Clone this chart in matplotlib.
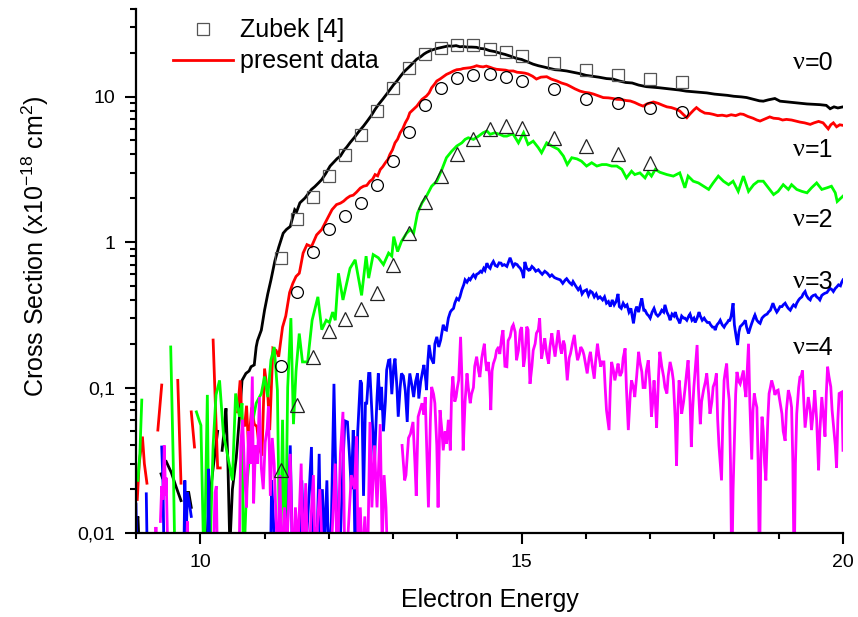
import numpy as np
import matplotlib
matplotlib.use("Agg")
import matplotlib.pyplot as plt
from matplotlib.ticker import FixedLocator, FuncFormatter, LogLocator, MultipleLocator, NullFormatter
from matplotlib.lines import Line2D

NaN = np.nan

# ==========================
# 1. Zubek [4] data (markers)
# ==========================
zubek_e = [11.25, 11.5, 11.75, 12.0, 12.25, 12.5, 12.75, 13.0, 13.25, 13.5, 13.75,
           14.0, 14.25, 14.5, 14.75, 15.0, 15.5, 16.0, 16.5, 17.0, 17.5]
zubek_v0 = [0.78, 1.43, 2.03, 2.83, 3.94, 5.43, 7.96, 11.5, 15.7, 19.6, 21.5,
            22.6, 22.7, 21.2, 20.1, 18.9, 17.0, 15.2, 14.1, 13.2, 12.5]
zubek_v1 = [0.140, 0.456, 0.853, 1.23, 1.52, 1.87, 2.48, 3.60, 5.70, 8.71, 11.5,
            13.4, 14.1, 14.3, 13.7, 12.8, 11.2, 9.58, 8.99, 8.40, 7.84]
zubek_e2 = [11.25, 11.5, 11.75, 12.0, 12.25, 12.5, 12.75, 13.0, 13.25, 13.5, 13.75,
            14.0, 14.25, 14.5, 14.75, 15.0, 15.5, 16.0, 16.5, 17.0]
zubek_v2 = [0.027, 0.0755, 0.161, 0.245, 0.294, 0.345, 0.445, 0.690, 1.15, 1.90, 2.83,
            4.00, 5.08, 6.01, 6.27, 6.11, 5.21, 4.56, 4.00, 3.51]

# ==================================
# 2. present data (energy, section)
# ==================================
v0_pts = [
    (9.00, 0.011), (9.03, 0.013), (9.05, 0.008), (9.08, NaN),
    (9.39, 0.0255), (9.41, 0.024), (9.43, NaN),
    (9.47, 0.031), (9.55, 0.026), (9.62, 0.021), (9.70, 0.0167), (9.73, NaN),
    (9.78, 0.019), (9.82, 0.019), (9.86, 0.015), (9.88, NaN),
    (10.10, 0.009), (10.15, 0.018), (10.20, 0.028), (10.27, 0.050), (10.30, NaN),
    (10.34, 0.037), (10.37, 0.050), (10.40, 0.072), (10.43, 0.030), (10.46, 0.008),
    (10.50, 0.020), (10.56, 0.033), (10.61, 0.063), (10.65, 0.112), (10.71, 0.125),
    (10.76, 0.130), (10.79, 0.139), (10.84, 0.143), (10.87, 0.19), (10.89, 0.21),
    (10.95, 0.248), (11.00, 0.34), (11.05, 0.44), (11.10, 0.55), (11.16, 0.74),
    (11.22, 0.92), (11.29, 1.15), (11.34, 1.22), (11.40, 1.28), (11.47, 1.67),
    (11.50, 1.62), (11.55, 1.86), (11.60, 1.95), (11.63, 2.01), (11.68, 2.15),
    (11.73, 2.30), (11.78, 2.40), (11.84, 2.55), (11.89, 2.69), (11.95, 2.95),
    (12.02, 3.33), (12.08, 3.55), (12.13, 3.75), (12.18, 3.90), (12.24, 4.30),
    (12.28, 4.50), (12.33, 4.82), (12.40, 5.25), (12.46, 5.70), (12.54, 6.27),
    (12.60, 6.8), (12.66, 7.4), (12.72, 8.17), (12.78, 8.9), (12.84, 9.6),
    (12.90, 10.4), (12.96, 11.3), (13.01, 12.1), (13.06, 12.8), (13.12, 13.9),
    (13.17, 14.8), (13.21, 15.4), (13.27, 16.3), (13.32, 17.2), (13.37, 18.1),
    (13.43, 18.8), (13.48, 19.6), (13.52, 20.1), (13.57, 20.6), (13.62, 21.0),
    (13.68, 21.4), (13.74, 21.7), (13.80, 22.0), (13.86, 22.3), (13.92, 22.2),
    (13.98, 22.4), (14.04, 22.0), (14.09, 22.1), (14.15, 21.9), (14.22, 21.9),
    (14.30, 21.8), (14.36, 21.4), (14.42, 21.3), (14.50, 20.7), (14.58, 20.4),
    (14.66, 19.9), (14.74, 19.5), (14.82, 19.0), (14.92, 18.3), (15.00, 18.0),
    (15.08, 17.4), (15.18, 16.7), (15.26, 16.3), (15.34, 16.0), (15.44, 15.6),
    (15.52, 15.3), (15.60, 15.2), (15.70, 15.0), (15.80, 14.7), (15.90, 14.4),
    (16.00, 14.0), (16.10, 13.8), (16.20, 13.6), (16.32, 13.3), (16.42, 13.2),
    (16.52, 12.8), (16.62, 12.5), (16.72, 12.4), (16.82, 12.0), (16.94, 11.7),
    (17.04, 11.6), (17.14, 11.5), (17.25, 11.35), (17.35, 11.2), (17.45, 11.1),
    (17.56, 10.9), (17.66, 10.8), (17.76, 10.7), (17.88, 10.6), (18.00, 10.4),
    (18.10, 10.3), (18.20, 10.2), (18.30, 10.05), (18.42, 9.95), (18.50, 9.85),
    (18.60, 9.6), (18.70, 9.35), (18.76, 9.3), (18.84, 9.5), (18.94, 9.7),
    (19.02, 9.3), (19.12, 9.2), (19.22, 9.1), (19.33, 9.0), (19.44, 8.9),
    (19.54, 8.85), (19.64, 8.8), (19.74, 8.7), (19.80, 8.25), (19.86, 8.5),
    (19.92, 8.35), (20.00, 8.5),
]

v1_pts = [
    (9.02, 0.017), (9.05, 0.030), (9.10, 0.046), (9.13, 0.030), (9.17, 0.022), (9.20, NaN),
    (9.34, 0.051), (9.40, 0.104), (9.43, NaN),
    (9.65, 0.112), (9.70, 0.022), (9.74, NaN),
    (9.86, 0.068), (9.91, 0.039), (9.94, NaN),
    (10.20, 0.212), (10.27, 0.028), (10.31, 0.028), (10.34, NaN),
    (10.58, 0.068), (10.62, 0.112), (10.65, 0.060), (10.69, 0.054), (10.72, 0.075),
    (10.75, 0.039), (10.80, 0.073), (10.84, 0.056), (10.88, 0.054), (10.92, 0.038),
    (10.96, 0.034), (11.00, 0.135), (11.05, 0.090), (11.08, 0.051), (11.13, 0.186),
    (11.18, 0.180), (11.22, 0.163), (11.28, 0.26), (11.33, 0.31), (11.39, 0.45),
    (11.44, 0.52), (11.49, 0.58), (11.54, 0.61), (11.55, 0.64), (11.60, 0.84),
    (11.66, 0.96), (11.73, 0.93), (11.81, 1.12), (11.89, 1.22), (11.97, 1.43),
    (12.05, 1.67), (12.12, 1.81), (12.18, 1.85), (12.23, 1.91), (12.28, 2.0),
    (12.33, 2.07), (12.38, 2.1), (12.43, 2.2), (12.49, 2.35), (12.54, 2.42),
    (12.59, 2.45), (12.64, 2.62), (12.68, 2.7), (12.72, 2.91), (12.76, 2.85),
    (12.80, 3.15), (12.84, 3.3), (12.88, 3.51), (12.92, 3.7), (12.95, 4.0),
    (12.99, 4.3), (13.03, 4.81), (13.07, 5.1), (13.11, 5.64), (13.15, 6.0),
    (13.19, 6.61), (13.23, 7.1), (13.26, 7.74), (13.32, 8.2), (13.37, 8.6),
    (13.41, 9.1), (13.45, 9.57), (13.52, 10.1), (13.56, 10.6), (13.60, 11.5),
    (13.64, 12.1), (13.68, 12.8), (13.73, 13.2), (13.78, 13.7), (13.83, 14.2),
    (13.89, 14.6), (13.94, 15.0), (13.99, 15.3), (14.05, 15.4), (14.09, 15.6),
    (14.15, 15.7), (14.20, 15.8), (14.25, 16.0), (14.30, 16.3), (14.35, 16.1),
    (14.40, 16.0), (14.45, 16.2), (14.51, 15.9), (14.56, 15.6), (14.61, 15.4),
    (14.68, 15.3), (14.75, 15.2), (14.80, 15.0), (14.87, 15.0), (14.93, 14.7),
    (15.00, 14.6), (15.05, 14.5), (15.10, 14.3), (15.17, 13.8), (15.23, 13.2),
    (15.30, 13.6), (15.39, 13.7), (15.46, 13.2), (15.55, 12.8), (15.62, 12.4),
    (15.70, 12.1), (15.75, 11.8), (15.83, 11.3), (15.91, 10.9), (15.98, 10.7),
    (16.05, 10.6), (16.12, 10.4), (16.20, 10.1), (16.27, 9.84), (16.35, 9.8),
    (16.42, 9.7), (16.48, 9.58), (16.55, 9.55), (16.62, 9.4), (16.69, 9.33),
    (16.76, 9.1), (16.83, 8.8), (16.89, 8.6), (16.95, 8.9), (17.05, 9.18),
    (17.12, 9.0), (17.20, 8.7), (17.26, 8.5), (17.33, 8.4), (17.40, 8.2),
    (17.46, 7.96), (17.52, 7.5), (17.57, 7.16), (17.62, 7.6), (17.68, 8.1),
    (17.72, 8.4), (17.78, 8.0), (17.85, 7.7), (17.92, 7.65), (17.98, 7.55),
    (18.05, 7.4), (18.12, 7.45), (18.19, 7.35), (18.26, 7.5), (18.33, 7.4),
    (18.40, 7.6), (18.45, 7.55), (18.52, 7.3), (18.60, 7.1), (18.66, 6.9),
    (18.71, 6.79), (18.78, 7.0), (18.86, 7.25), (18.92, 7.1), (19.00, 7.05),
    (19.06, 6.9), (19.12, 6.97), (19.20, 6.9), (19.26, 6.8), (19.33, 6.68),
    (19.40, 6.6), (19.49, 6.44), (19.55, 6.6), (19.62, 6.75), (19.69, 6.6),
    (19.73, 6.3), (19.77, 6.0), (19.81, 6.4), (19.85, 6.6), (19.90, 6.2),
    (19.95, 6.4), (20.00, 6.34),
]

v2_pts = [
    (9.03, 0.023), (9.06, 0.035), (9.09, 0.082), (9.11, NaN),
    (9.54, 0.19), (9.58, 0.03), (9.61, 0.005), (9.63, NaN),
    (9.94, 0.068), (9.98, 0.060), (10.01, 0.055), (10.06, 0.005), (10.11, 0.089),
    (10.14, 0.005), (10.20, 0.040), (10.245, 0.089), (10.30, 0.112), (10.36, 0.048),
    (10.42, 0.035), (10.50, 0.023), (10.55, 0.091), (10.61, 0.063), (10.65, 0.078),
    (10.67, 0.005), (10.72, 0.020), (10.78, 0.040), (10.82, 0.060), (10.87, 0.078),
    (10.95, 0.091), (11.00, 0.119), (11.05, 0.086), (11.10, 0.155), (11.15, 0.19),
    (11.20, 0.096), (11.24, 0.005), (11.28, 0.060), (11.32, 0.005), (11.36, 0.100),
    (11.41, 0.30), (11.45, 0.056), (11.49, 0.13), (11.54, 0.235), (11.59, 0.15),
    (11.67, 0.15), (11.74, 0.29), (11.83, 0.42), (11.89, 0.25), (11.96, 0.29),
    (12.01, 0.28), (12.06, 0.33), (12.10, 0.29), (12.15, 0.61), (12.22, 0.40),
    (12.33, 0.66), (12.41, 0.755), (12.51, 0.43), (12.58, 0.80), (12.62, 0.565),
    (12.69, 0.82), (12.77, 0.78), (12.85, 0.70), (12.93, 0.84), (12.98, 0.80),
    (13.01, 1.09), (13.07, 0.86), (13.13, 1.01), (13.21, 1.15), (13.27, 1.22),
    (13.32, 1.15), (13.38, 1.58), (13.45, 1.86), (13.52, 2.07), (13.60, 2.42),
    (13.68, 2.62), (13.76, 3.16), (13.83, 3.8), (13.91, 4.2), (13.99, 4.57),
    (14.07, 4.81), (14.12, 5.08), (14.17, 5.21), (14.25, 5.08), (14.33, 5.35),
    (14.40, 5.64), (14.46, 5.8), (14.51, 5.5), (14.58, 5.64), (14.66, 5.5),
    (14.72, 5.35), (14.77, 5.35), (14.84, 5.5), (14.87, 5.5), (14.95, 4.81),
    (15.03, 5.64), (15.10, 4.69), (15.18, 4.94), (15.26, 4.45), (15.31, 4.11),
    (15.39, 4.81), (15.47, 4.57), (15.57, 4.34), (15.65, 3.9), (15.71, 3.41),
    (15.78, 3.8), (15.86, 3.73), (15.93, 3.6), (16.01, 3.33), (16.09, 3.51),
    (16.17, 3.33), (16.25, 3.41), (16.32, 3.41), (16.40, 3.33), (16.48, 3.33),
    (16.56, 3.16), (16.63, 2.76), (16.71, 3.07), (16.76, 2.91), (16.84, 2.99),
    (16.92, 2.76), (16.97, 3.02), (17.02, 2.84), (17.08, 3.16), (17.15, 3.02),
    (17.26, 2.91), (17.36, 2.84), (17.46, 2.99), (17.54, 2.36), (17.59, 2.84),
    (17.67, 2.62), (17.75, 2.55), (17.83, 2.42), (17.91, 2.30), (17.98, 2.55),
    (18.06, 2.84), (18.14, 2.62), (18.22, 2.48), (18.29, 2.62), (18.37, 2.23),
    (18.45, 2.84), (18.53, 2.23), (18.61, 2.48), (18.68, 2.62), (18.76, 2.62),
    (18.84, 2.36), (18.92, 2.12), (18.99, 2.23), (19.07, 2.48), (19.15, 2.30),
    (19.20, 2.48), (19.28, 2.30), (19.36, 2.23), (19.44, 2.18), (19.51, 2.36),
    (19.59, 2.55), (19.67, 2.30), (19.75, 2.36), (19.82, 2.42), (19.88, 2.18),
    (19.91, 1.9), (20.00, 2.07),
]

v3_pts = [
    (9.00, 0.0158), (9.02, 0.005), (9.04, NaN),
    (9.16, 0.0186), (9.18, 0.005), (9.20, NaN),
    (9.40, 0.039), (9.42, 0.022), (9.44, 0.005), (9.46, NaN),
    (9.74, 0.005), (9.76, 0.023), (9.78, 0.009), (9.80, 0.019), (9.83, 0.016), (9.86, 0.013), (9.88, NaN),
    (10.11, 0.005), (10.13, 0.0276), (10.15, 0.005), (10.17, NaN),
    (11.09, 0.005), (11.11, 0.023), (11.14, 0.012), (11.17, 0.005), (11.19, NaN),
    (11.33, 0.005), (11.40, 0.040), (11.44, 0.005), (11.50, 0.008), (11.54, 0.005),
    (11.58, 0.023), (11.62, 0.006), (11.67, 0.012), (11.73, 0.039), (11.76, 0.005),
    (11.82, 0.010), (11.85, 0.035), (11.88, 0.005), (11.90, 0.020), (11.93, 0.008),
    (11.97, 0.023), (12.00, 0.006), (12.04, 0.012), (12.08, 0.106), (12.12, 0.014),
    (12.16, 0.005), (12.22, 0.030), (12.25, 0.059), (12.29, 0.058), (12.32, 0.035),
    (12.35, 0.020), (12.38, 0.051), (12.41, 0.006), (12.45, 0.050), (12.49, 0.112),
    (12.51, 0.107), (12.54, 0.018), (12.57, 0.078), (12.59, 0.078), (12.62, 0.125),
    (12.64, 0.125), (12.68, 0.056), (12.71, 0.030), (12.75, 0.085), (12.77, 0.125),
    (12.80, 0.070), (12.82, 0.101), (12.85, 0.050), (12.88, 0.080), (12.90, 0.132),
    (12.93, 0.154), (12.95, 0.155), (12.98, 0.090), (13.01, 0.140), (13.03, 0.158),
    (13.06, 0.100), (13.08, 0.063), (13.11, 0.100), (13.13, 0.125), (13.16, 0.120),
    (13.19, 0.095), (13.22, 0.058), (13.24, 0.100), (13.26, 0.125), (13.29, 0.105),
    (13.32, 0.086), (13.35, 0.110), (13.38, 0.125), (13.40, 0.084), (13.43, 0.110),
    (13.46, 0.130), (13.48, 0.143), (13.51, 0.110), (13.52, 0.096), (13.54, 0.150),
    (13.56, 0.196), (13.59, 0.160), (13.63, 0.146), (13.65, 0.200), (13.68, 0.223),
    (13.71, 0.190), (13.74, 0.212), (13.76, 0.240), (13.78, 0.270), (13.81, 0.250),
    (13.83, 0.248), (13.86, 0.300), (13.89, 0.330), (13.91, 0.340), (13.94, 0.350),
    (13.96, 0.380), (13.99, 0.410), (14.02, 0.400), (14.04, 0.420), (14.07, 0.470),
    (14.10, 0.510), (14.12, 0.550), (14.15, 0.530), (14.18, 0.560), (14.20, 0.550),
    (14.23, 0.580), (14.25, 0.596), (14.28, 0.570), (14.30, 0.600), (14.33, 0.610),
    (14.36, 0.630), (14.38, 0.620), (14.41, 0.660), (14.43, 0.640), (14.46, 0.716),
    (14.48, 0.680), (14.51, 0.660), (14.53, 0.700), (14.56, 0.736), (14.59, 0.690),
    (14.62, 0.680), (14.65, 0.720), (14.68, 0.716), (14.70, 0.690), (14.73, 0.700),
    (14.77, 0.680), (14.80, 0.740), (14.82, 0.780), (14.85, 0.720), (14.87, 0.680),
    (14.90, 0.710), (14.93, 0.700), (14.95, 0.680), (14.98, 0.660), (15.01, 0.620),
    (15.03, 0.565), (15.05, 0.730), (15.08, 0.660), (15.11, 0.640), (15.13, 0.645),
    (15.16, 0.680), (15.19, 0.660), (15.22, 0.630), (15.26, 0.645), (15.29, 0.620),
    (15.32, 0.600), (15.36, 0.630), (15.40, 0.610), (15.44, 0.580), (15.47, 0.595),
    (15.51, 0.570), (15.55, 0.560), (15.60, 0.550), (15.64, 0.520), (15.68, 0.550),
    (15.70, 0.560), (15.74, 0.530), (15.78, 0.510), (15.80, 0.535), (15.84, 0.500),
    (15.88, 0.470), (15.91, 0.490), (15.94, 0.440), (15.97, 0.460), (16.01, 0.470),
    (16.04, 0.430), (16.07, 0.460), (16.10, 0.450), (16.13, 0.420), (16.16, 0.440),
    (16.19, 0.410), (16.22, 0.420), (16.26, 0.400), (16.29, 0.420), (16.32, 0.380),
    (16.35, 0.390), (16.38, 0.360), (16.41, 0.400), (16.44, 0.370), (16.47, 0.390),
    (16.50, 0.440), (16.52, 0.360), (16.55, 0.350), (16.58, 0.380), (16.61, 0.360),
    (16.64, 0.370), (16.67, 0.330), (16.70, 0.350), (16.74, 0.276), (16.77, 0.340),
    (16.79, 0.360), (16.82, 0.330), (16.85, 0.380), (16.87, 0.410), (16.90, 0.340),
    (16.92, 0.340), (16.95, 0.320), (16.98, 0.310), (17.00, 0.300), (17.03, 0.330),
    (17.06, 0.350), (17.09, 0.320), (17.12, 0.310), (17.15, 0.320), (17.18, 0.340),
    (17.21, 0.330), (17.23, 0.370), (17.26, 0.330), (17.29, 0.310), (17.31, 0.290),
    (17.34, 0.320), (17.37, 0.310), (17.39, 0.330), (17.42, 0.300), (17.44, 0.290),
    (17.46, 0.276), (17.49, 0.310), (17.52, 0.300), (17.54, 0.300), (17.57, 0.290),
    (17.60, 0.310), (17.62, 0.320), (17.65, 0.290), (17.68, 0.300), (17.70, 0.280),
    (17.73, 0.300), (17.76, 0.330), (17.78, 0.310), (17.81, 0.290), (17.84, 0.300),
    (17.86, 0.290), (17.89, 0.280), (17.92, 0.280), (17.94, 0.270), (17.97, 0.260),
    (18.00, 0.260), (18.01, 0.248), (18.04, 0.270), (18.07, 0.280), (18.09, 0.290),
    (18.12, 0.270), (18.15, 0.260), (18.17, 0.270), (18.20, 0.280), (18.22, 0.290),
    (18.24, 0.290), (18.26, 0.310), (18.29, 0.380), (18.31, 0.270), (18.34, 0.220),
    (18.36, 0.196), (18.38, 0.240), (18.40, 0.262), (18.43, 0.270), (18.46, 0.280),
    (18.48, 0.290), (18.50, 0.260), (18.53, 0.235), (18.56, 0.260), (18.58, 0.276),
    (18.61, 0.300), (18.63, 0.315), (18.66, 0.290), (18.69, 0.280), (18.71, 0.276),
    (18.74, 0.300), (18.77, 0.310), (18.79, 0.315), (18.82, 0.320), (18.84, 0.330),
    (18.87, 0.340), (18.89, 0.360), (18.91, 0.380), (18.94, 0.350), (18.97, 0.330),
    (18.99, 0.340), (19.02, 0.360), (19.05, 0.360), (19.07, 0.370), (19.10, 0.380),
    (19.13, 0.360), (19.15, 0.350), (19.18, 0.340), (19.21, 0.360), (19.23, 0.370),
    (19.26, 0.360), (19.28, 0.380), (19.31, 0.400), (19.33, 0.410), (19.36, 0.420),
    (19.38, 0.440), (19.41, 0.457), (19.43, 0.430), (19.46, 0.410), (19.49, 0.400),
    (19.51, 0.420), (19.54, 0.430), (19.57, 0.434), (19.59, 0.420), (19.62, 0.410),
    (19.64, 0.400), (19.67, 0.430), (19.70, 0.440), (19.72, 0.445), (19.75, 0.450),
    (19.78, 0.470), (19.80, 0.480), (19.83, 0.470), (19.85, 0.457), (19.88, 0.480),
    (19.90, 0.490), (19.93, 0.508), (19.96, 0.500), (19.98, 0.530), (20.00, 0.550),
]

v4_pts = [
    (9.29, 0.005), (9.31, 0.011), (9.33, 0.006), (9.35, NaN),
    (9.38, 0.012), (9.40, 0.021), (9.42, 0.017), (9.44, 0.040), (9.46, 0.018),
    (9.47, 0.024), (9.49, 0.009), (9.51, NaN),
    (9.78, 0.006), (9.80, 0.012), (9.82, 0.005), (9.84, NaN),
    (10.20, 0.006), (10.23, 0.019), (10.25, 0.021), (10.27, 0.005), (10.29, NaN),
    (10.60, 0.005), (10.63, 0.041), (10.66, 0.060), (10.69, 0.025), (10.72, 0.015),
    (10.75, 0.050), (10.78, 0.030), (10.81, 0.119), (10.83, 0.016), (10.86, 0.040),
    (10.89, 0.030), (10.92, 0.086), (10.95, 0.028), (10.98, 0.020), (11.01, 0.042),
    (11.04, 0.052), (11.06, 0.074), (11.09, 0.018), (11.12, 0.045), (11.15, 0.030),
    (11.18, 0.012), (11.21, 0.006), (11.24, 0.025), (11.27, 0.005), (11.31, 0.015),
    (11.35, 0.008), (11.40, 0.035), (11.44, 0.005), (11.48, 0.015), (11.52, 0.008),
    (11.57, 0.030), (11.60, 0.005), (11.64, 0.022), (11.68, 0.005), (11.72, 0.012),
    (11.76, 0.025), (11.79, 0.006), (11.83, 0.013), (11.86, 0.020), (11.89, 0.009),
    (11.93, 0.005), (11.98, 0.008), (12.02, 0.005), (12.06, 0.012), (12.10, 0.030),
    (12.13, 0.005), (12.18, 0.035), (12.22, 0.068), (12.25, 0.005), (12.30, 0.010),
    (12.35, 0.025), (12.40, 0.020), (12.43, 0.046), (12.46, 0.006), (12.49, 0.015),
    (12.52, 0.006), (12.56, 0.013), (12.60, 0.005), (12.64, 0.058), (12.67, 0.015),
    (12.71, 0.040), (12.75, 0.015), (12.80, 0.056), (12.83, 0.008), (12.86, 0.025),
    (12.89, 0.015), (12.92, 0.005), (12.94, NaN),
    (13.14, 0.040), (13.18, 0.023), (13.20, 0.025), (13.24, 0.045), (13.27, 0.048),
    (13.31, 0.058), (13.34, 0.030), (13.36, 0.018), (13.39, 0.063), (13.42, 0.070),
    (13.45, 0.078), (13.48, 0.065), (13.50, 0.086), (13.53, 0.030), (13.55, 0.015),
    (13.58, 0.060), (13.60, 0.101), (13.63, 0.090), (13.65, 0.078), (13.68, 0.040),
    (13.70, 0.015), (13.73, 0.070), (13.76, 0.050), (13.78, 0.037), (13.81, 0.050),
    (13.83, 0.041), (13.86, 0.060), (13.89, 0.037), (13.91, 0.090), (13.93, 0.119),
    (13.96, 0.080), (13.98, 0.086), (14.00, 0.100), (14.02, 0.112), (14.05, 0.223),
    (14.07, 0.120), (14.09, 0.037), (14.12, 0.080), (14.15, 0.125), (14.17, 0.100),
    (14.20, 0.078), (14.22, 0.090), (14.25, 0.100), (14.27, 0.140), (14.30, 0.163),
    (14.33, 0.130), (14.35, 0.118), (14.38, 0.160), (14.40, 0.180), (14.42, 0.200),
    (14.44, 0.150), (14.46, 0.130), (14.48, 0.150), (14.50, 0.120), (14.52, 0.070),
    (14.54, 0.130), (14.56, 0.146), (14.59, 0.160), (14.61, 0.180), (14.64, 0.190),
    (14.66, 0.170), (14.69, 0.223), (14.71, 0.248), (14.74, 0.140), (14.77, 0.139),
    (14.79, 0.210), (14.82, 0.223), (14.85, 0.260), (14.87, 0.270), (14.90, 0.240),
    (14.92, 0.154), (14.95, 0.180), (14.98, 0.248), (15.00, 0.260), (15.03, 0.139),
    (15.05, 0.160), (15.08, 0.262), (15.10, 0.250), (15.13, 0.106), (15.16, 0.140),
    (15.18, 0.180), (15.21, 0.200), (15.23, 0.236), (15.26, 0.250), (15.28, 0.300),
    (15.31, 0.158), (15.34, 0.190), (15.36, 0.218), (15.39, 0.170), (15.42, 0.146),
    (15.44, 0.190), (15.47, 0.236), (15.49, 0.200), (15.52, 0.163), (15.55, 0.210),
    (15.57, 0.248), (15.60, 0.190), (15.62, 0.171), (15.65, 0.210), (15.67, 0.196),
    (15.70, 0.130), (15.71, 0.112), (15.74, 0.160), (15.76, 0.171), (15.79, 0.200),
    (15.82, 0.230), (15.84, 0.190), (15.87, 0.154), (15.90, 0.170), (15.92, 0.190),
    (15.95, 0.180), (15.97, 0.167), (16.00, 0.140), (16.02, 0.125), (16.05, 0.160),
    (16.07, 0.176), (16.10, 0.140), (16.13, 0.115), (16.15, 0.150), (16.18, 0.200),
    (16.20, 0.170), (16.23, 0.139), (16.25, 0.150), (16.28, 0.150), (16.30, 0.100),
    (16.32, 0.070), (16.34, 0.060), (16.36, 0.051), (16.38, 0.100), (16.40, 0.150),
    (16.43, 0.130), (16.45, 0.112), (16.48, 0.130), (16.50, 0.146), (16.53, 0.120),
    (16.56, 0.128), (16.58, 0.160), (16.61, 0.186), (16.63, 0.100), (16.66, 0.051),
    (16.69, 0.090), (16.71, 0.112), (16.74, 0.100), (16.76, 0.086), (16.79, 0.120),
    (16.82, 0.176), (16.84, 0.150), (16.87, 0.128), (16.89, 0.100), (16.92, 0.100),
    (16.94, 0.130), (16.97, 0.154), (17.00, 0.100), (17.02, 0.063), (17.04, 0.080),
    (17.06, 0.112), (17.08, 0.080), (17.10, 0.053), (17.13, 0.120), (17.15, 0.176),
    (17.18, 0.140), (17.21, 0.118), (17.23, 0.100), (17.26, 0.091), (17.28, 0.120),
    (17.31, 0.150), (17.34, 0.130), (17.36, 0.112), (17.39, 0.060), (17.41, 0.029),
    (17.43, 0.070), (17.45, 0.112), (17.47, 0.090), (17.49, 0.066), (17.52, 0.080),
    (17.54, 0.096), (17.57, 0.130), (17.59, 0.154), (17.62, 0.080), (17.64, 0.039),
    (17.66, 0.070), (17.68, 0.101), (17.71, 0.150), (17.73, 0.196), (17.75, 0.100),
    (17.78, 0.056), (17.80, 0.080), (17.83, 0.096), (17.86, 0.110), (17.88, 0.125),
    (17.91, 0.090), (17.93, 0.066), (17.96, 0.080), (17.98, 0.101), (18.01, 0.110),
    (18.03, 0.125), (18.05, 0.060), (18.07, 0.040), (18.09, 0.030), (18.11, 0.023),
    (18.13, 0.060), (18.15, 0.112), (18.17, 0.130), (18.19, 0.146), (18.21, 0.100),
    (18.23, 0.082), (18.25, 0.030), (18.27, 0.005), (18.29, 0.020), (18.31, 0.043),
    (18.33, 0.090), (18.35, 0.128), (18.38, 0.110), (18.40, 0.106), (18.43, 0.120),
    (18.45, 0.131), (18.47, 0.100), (18.49, 0.086), (18.51, 0.130), (18.53, 0.200),
    (18.55, 0.080), (18.58, 0.032), (18.60, 0.070), (18.62, 0.091), (18.64, 0.080),
    (18.66, 0.073), (18.68, 0.030), (18.70, 0.005), (18.72, 0.030), (18.74, 0.063),
    (18.76, 0.050), (18.78, 0.030), (18.80, 0.023), (18.83, 0.060), (18.85, 0.091),
    (18.87, 0.100), (18.89, 0.112), (18.92, 0.100), (18.94, 0.089), (18.97, 0.095),
    (18.99, 0.096), (19.02, 0.080), (19.05, 0.066), (19.07, 0.050), (19.10, 0.043),
    (19.12, 0.070), (19.15, 0.096), (19.18, 0.085), (19.20, 0.073), (19.22, 0.030),
    (19.24, 0.005), (19.26, 0.030), (19.28, 0.066), (19.31, 0.100), (19.33, 0.118),
    (19.35, 0.120), (19.37, 0.131), (19.39, 0.080), (19.41, 0.053), (19.44, 0.070),
    (19.46, 0.086), (19.49, 0.070), (19.51, 0.051), (19.54, 0.070), (19.56, 0.096),
    (19.59, 0.060), (19.62, 0.027), (19.64, 0.050), (19.67, 0.086), (19.70, 0.060),
    (19.72, 0.046), (19.74, 0.090), (19.76, 0.139), (19.78, 0.120), (19.81, 0.101),
    (19.83, 0.070), (19.85, 0.056), (19.88, 0.040), (19.90, 0.028), (19.92, 0.060),
    (19.94, 0.091), (19.96, 0.092), (19.98, 0.093), (20.00, 0.037),
]

series = [(v0_pts, "black"), (v1_pts, "#ff0000"), (v2_pts, "#00ff00"),
          (v3_pts, "#0000ff"), (v4_pts, "#ff00ff")]
level_labels = ["=0", "=1", "=2", "=3", "=4"]
level_label_y = [63, 150, 220, 282, 348]  # pixel rows of the nu labels

# ============
# 2. Fonts etc
# ============
plt.rcParams["font.family"] = ["Liberation Sans", "DejaVu Sans"]
plt.rcParams["mathtext.fontset"] = "custom"
plt.rcParams["mathtext.rm"] = "Liberation Sans"
plt.rcParams["mathtext.default"] = "regular"

W, H = 858, 617
fig = plt.figure(figsize=(W / 100, H / 100), dpi=100)
ax = fig.add_axes([136 / W, 1 - 533 / H, 707 / W, 524 / H])

# ==============
# 3. Draw curves
# ==============
for pts, col in series:
    e, s = np.array(pts).T
    ax.plot(e, s, color=col, lw=2.0, solid_joinstyle="miter")

ax.plot(zubek_e, zubek_v0, ls="none", marker="s", ms=8, mfc="none", mec="#555555", mew=0.9)
ax.plot(zubek_e, zubek_v1, ls="none", marker="o", ms=8.5, mfc="none", mec="black", mew=0.9)
ax.plot(zubek_e2, zubek_v2, ls="none", marker="^", ms=9.5, mfc="none", mec="#222222", mew=0.9)

# ===============
# 4. Axes styling
# ===============
ax.set_yscale("log")
ax.set_xlim(9, 20)
ax.set_ylim(0.01, 40)
ax.xaxis.set_major_locator(FixedLocator([10, 15, 20]))
ax.xaxis.set_minor_locator(MultipleLocator(1))
ax.yaxis.set_major_locator(FixedLocator([0.01, 0.1, 1, 10]))
ax.yaxis.set_major_formatter(FuncFormatter(lambda v, p: f"{v:g}".replace(".", ",")))
ax.yaxis.set_minor_locator(LogLocator(base=10, subs=np.arange(2, 10)))
ax.yaxis.set_minor_formatter(NullFormatter())

for side in ["top", "right"]:
    ax.spines[side].set_visible(False)
for side in ["left", "bottom"]:
    ax.spines[side].set_linewidth(1.6)
ax.tick_params(which="major", direction="out", length=8, width=1.5, labelsize=14, pad=7)
ax.tick_params(which="minor", direction="out", length=4.5, width=1.5)

fig.text(35 / W, 1 - 246 / H, "Cross Section (x10$^{-18}$ cm$^{2}$)",
         rotation=90, ha="center", va="center", fontsize=18)
fig.text(490 / W, 1 - 600 / H, "Electron Energy", ha="center", va="center", fontsize=18)

# nu labels
for lab, ypx in zip(level_labels, level_label_y):
    fig.text(805 / W, 1 - ypx / H, "\u03bd", family=["Liberation Serif", "DejaVu Serif"],
             ha="right", va="center", fontsize=19)
    fig.text(805 / W, 1 - ypx / H, lab, ha="left", va="center", fontsize=18)

# ==========
# 5. Legend
# ==========
h_sq = Line2D([], [], ls="none", marker="s", ms=8, mfc="none", mec="#555555", mew=0.9)
h_ln = Line2D([], [], color="#ff0000", lw=2.0)
ax.legend([h_sq, h_ln], ["Zubek [4]", "present data"], loc="upper left",
          bbox_to_anchor=(0.052, 0.982), frameon=False, fontsize=18,
          handlelength=2.4, handletextpad=0.3, labelspacing=0.28,
          borderpad=0, borderaxespad=0)

plt.savefig("out.png", dpi=100)
